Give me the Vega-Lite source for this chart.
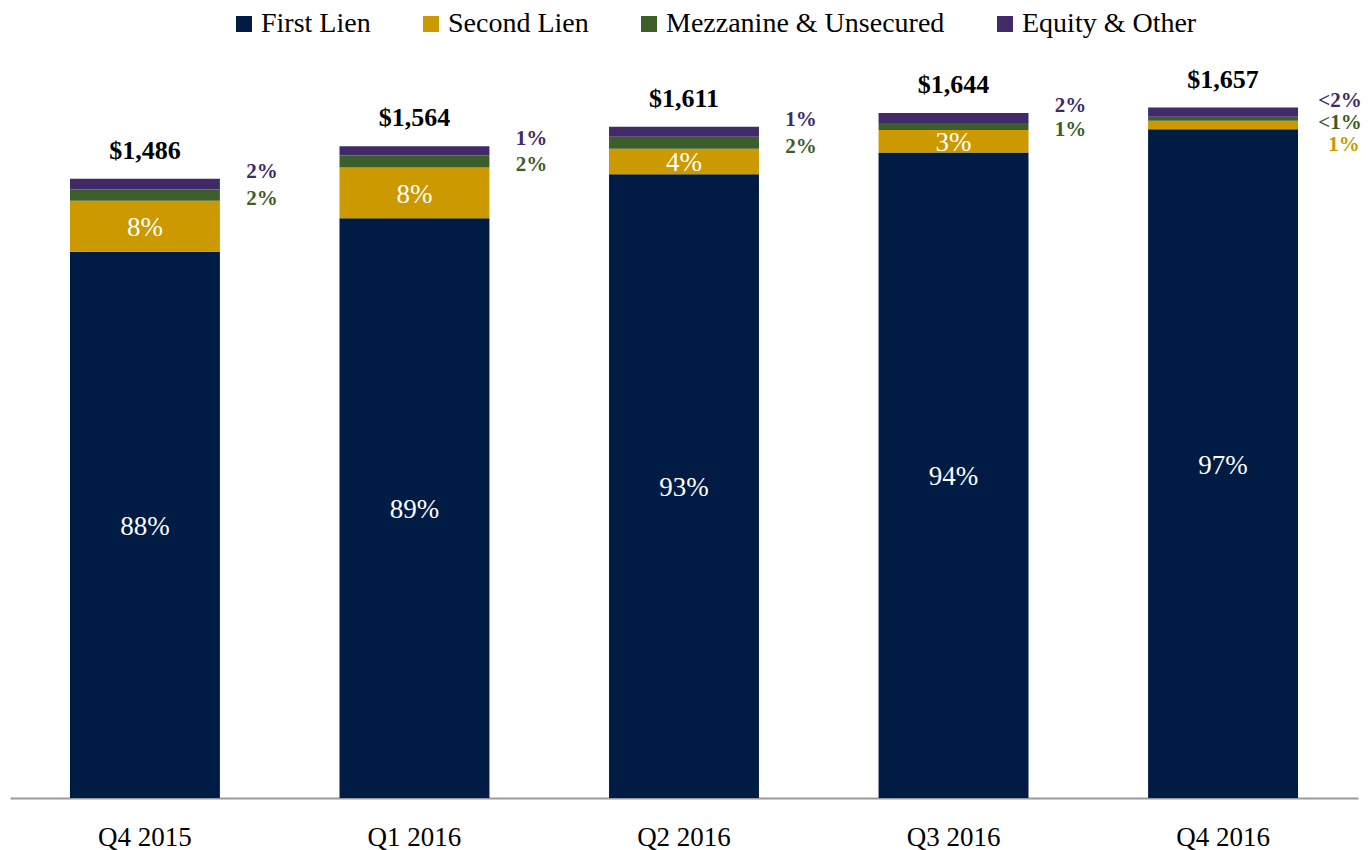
{
  "$schema": "https://vega.github.io/schema/vega-lite/v6.json",
  "width": 1348,
  "height": 798,
  "autosize": {"type": "none"},
  "padding": {"left": 10, "top": 0, "right": 11, "bottom": 52},
  "background": "white",
  "config": {"view": {"stroke": null}, "font": "Liberation Serif"},
  "data": {
    "values": [
      {"quarter": "Q4 2015", "series": "First Lien", "ord": 1, "value": 1311, "label": "88%"},
      {"quarter": "Q4 2015", "series": "Second Lien", "ord": 2, "value": 122, "label": "8%"},
      {"quarter": "Q4 2015", "series": "Mezzanine & Unsecured", "ord": 3, "value": 27, "label": "2%"},
      {"quarter": "Q4 2015", "series": "Equity & Other", "ord": 4, "value": 26, "label": "2%"},
      {"quarter": "Q1 2016", "series": "First Lien", "ord": 1, "value": 1391, "label": "89%"},
      {"quarter": "Q1 2016", "series": "Second Lien", "ord": 2, "value": 122, "label": "8%"},
      {"quarter": "Q1 2016", "series": "Mezzanine & Unsecured", "ord": 3, "value": 29, "label": "2%"},
      {"quarter": "Q1 2016", "series": "Equity & Other", "ord": 4, "value": 22, "label": "1%"},
      {"quarter": "Q2 2016", "series": "First Lien", "ord": 1, "value": 1497, "label": "93%"},
      {"quarter": "Q2 2016", "series": "Second Lien", "ord": 2, "value": 61, "label": "4%"},
      {"quarter": "Q2 2016", "series": "Mezzanine & Unsecured", "ord": 3, "value": 29, "label": "2%"},
      {"quarter": "Q2 2016", "series": "Equity & Other", "ord": 4, "value": 24, "label": "1%"},
      {"quarter": "Q3 2016", "series": "First Lien", "ord": 1, "value": 1549, "label": "94%"},
      {"quarter": "Q3 2016", "series": "Second Lien", "ord": 2, "value": 54, "label": "3%"},
      {"quarter": "Q3 2016", "series": "Mezzanine & Unsecured", "ord": 3, "value": 17, "label": "1%"},
      {"quarter": "Q3 2016", "series": "Equity & Other", "ord": 4, "value": 24, "label": "2%"},
      {"quarter": "Q4 2016", "series": "First Lien", "ord": 1, "value": 1605, "label": "97%"},
      {"quarter": "Q4 2016", "series": "Second Lien", "ord": 2, "value": 20, "label": "1%"},
      {"quarter": "Q4 2016", "series": "Mezzanine & Unsecured", "ord": 3, "value": 10, "label": "<1%"},
      {"quarter": "Q4 2016", "series": "Equity & Other", "ord": 4, "value": 22, "label": "<2%"}
    ]
  },
  "encoding": {
    "x": {
      "field": "quarter",
      "type": "nominal",
      "sort": ["Q4 2015", "Q1 2016", "Q2 2016", "Q3 2016", "Q4 2016"],
      "scale": {"paddingInner": 0.4437, "paddingOuter": 0.2225},
      "axis": {
        "title": null,
        "labelAngle": 0,
        "labelFont": "Liberation Serif",
        "labelFontSize": 27,
        "labelColor": "#000000",
        "labelBaseline": "middle",
        "labelPadding": 39,
        "labelLimit": 400,
        "ticks": false,
        "tickSize": 0,
        "domainColor": "#999999",
        "domainWidth": 2
      }
    }
  },
  "layer": [
    {
      "mark": {"type": "bar"},
      "encoding": {
        "y": {
          "field": "value",
          "type": "quantitative",
          "stack": "zero",
          "scale": {"domain": [0, 1915], "nice": false, "zero": true},
          "axis": null
        },
        "order": {"field": "ord", "type": "quantitative", "sort": "ascending"},
        "color": {
          "field": "series",
          "type": "nominal",
          "scale": {
            "domain": ["First Lien", "Second Lien", "Mezzanine & Unsecured", "Equity & Other"],
            "range": ["#001B44", "#CC9900", "#3B5E2B", "#402A68"]
          },
          "legend": {
            "orient": "none",
            "legendX": 220,
            "legendY": 10,
            "direction": "horizontal",
            "title": null,
            "symbolType": "square",
            "symbolSize": 256,
            "symbolStrokeWidth": 0,
            "labelFont": "Liberation Serif",
            "labelFontSize": 28,
            "labelColor": "#000000",
            "labelOffset": 3,
            "labelLimit": 500,
            "columnPadding": 46,
            "padding": 0
          }
        }
      }
    },
    {
      "transform": [
        {"filter": "datum.series === 'First Lien' || (datum.series === 'Second Lien' && datum.quarter !== 'Q4 2016')"}
      ],
      "mark": {"type": "text", "color": "#ffffff", "font": "Liberation Serif", "fontSize": 27, "baseline": "middle", "align": "center", "dy": 2},
      "encoding": {
        "y": {"field": "value", "type": "quantitative", "stack": "zero", "bandPosition": 0.5},
        "order": {"field": "ord", "type": "quantitative", "sort": "ascending"},
        "text": {"field": "label", "type": "nominal"}
      }
    },
    {
      "mark": {"type": "text", "color": "#402A68", "font": "Liberation Serif", "fontWeight": "bold", "fontSize": 21, "baseline": "middle", "align": "center", "dx": 117, "dy": -7},
      "encoding": {
        "y": {"field": "value", "type": "quantitative", "stack": "zero", "bandPosition": 1},
        "order": {"field": "ord", "type": "quantitative", "sort": "ascending"},
        "text": {"condition": {"test": "datum.series === 'Equity & Other'", "field": "label"}, "value": ""}
      }
    },
    {
      "mark": {"type": "text", "color": "#3B5E2B", "font": "Liberation Serif", "fontWeight": "bold", "fontSize": 21, "baseline": "middle", "align": "center", "dx": 117, "dy": 4},
      "encoding": {
        "y": {"field": "value", "type": "quantitative", "stack": "zero", "bandPosition": 0.5},
        "order": {"field": "ord", "type": "quantitative", "sort": "ascending"},
        "text": {"condition": {"test": "datum.series === 'Mezzanine & Unsecured'", "field": "label"}, "value": ""}
      }
    },
    {
      "mark": {"type": "text", "color": "#CC9900", "font": "Liberation Serif", "fontWeight": "bold", "fontSize": 21, "baseline": "middle", "align": "center", "dx": 121, "dy": 20},
      "encoding": {
        "y": {"field": "value", "type": "quantitative", "stack": "zero", "bandPosition": 0.5},
        "order": {"field": "ord", "type": "quantitative", "sort": "ascending"},
        "text": {"condition": {"test": "datum.series === 'Second Lien' && datum.quarter === 'Q4 2016'", "field": "label"}, "value": ""}
      }
    },
    {
      "transform": [
        {"aggregate": [{"op": "sum", "field": "value", "as": "total"}], "groupby": ["quarter"]}
      ],
      "mark": {"type": "text", "color": "#000000", "font": "Liberation Serif", "fontWeight": "bold", "fontSize": 26, "baseline": "middle", "align": "center", "dy": -28},
      "encoding": {
        "y": {"field": "total", "type": "quantitative"},
        "text": {"field": "total", "type": "quantitative", "format": "$,d"}
      }
    }
  ]
}
